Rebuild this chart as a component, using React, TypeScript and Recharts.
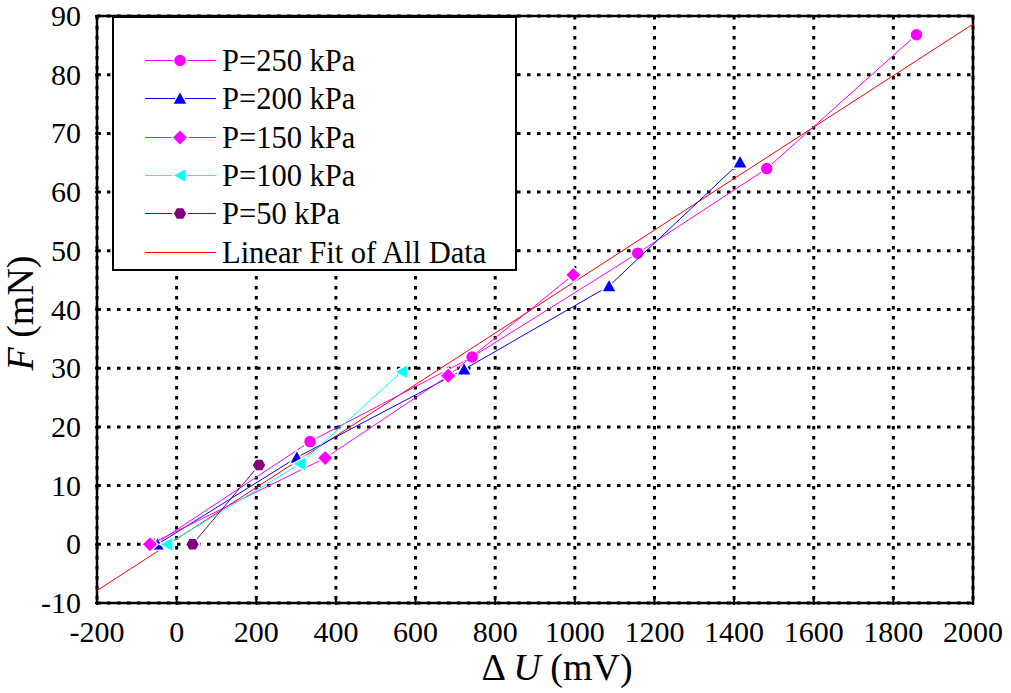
import React from 'react';
import {
  ScatterChart,
  Scatter,
  XAxis,
  YAxis,
  CartesianGrid,
  ReferenceLine,
  ReferenceArea,
} from 'recharts';

// Measured force F (mN) against output voltage change ΔU (mV) for each pressure
const p250 = [
  { u: -55, f: 0 },
  { u: 335, f: 17.5 },
  { u: 742, f: 31.9 },
  { u: 1158, f: 49.6 },
  { u: 1482, f: 64.0 },
  { u: 1858, f: 86.8 },
];
const p200 = [
  { u: -48, f: 0 },
  { u: 302, f: 14.8 },
  { u: 722, f: 29.8 },
  { u: 1086, f: 44.0 },
  { u: 1415, f: 65.1 },
];
const p150 = [
  { u: -67, f: 0 },
  { u: 373, f: 14.7 },
  { u: 682, f: 28.7 },
  { u: 996, f: 45.9 },
];
const p100 = [
  { u: -24, f: 0 },
  { u: 310, f: 13.7 },
  { u: 565, f: 29.4 },
];
const p50 = [
  { u: 40, f: 0 },
  { u: 207, f: 13.5 },
];

// Linear fit of all data: F = slope * ΔU + intercept
const fitSlope = 0.04386;
const fitIntercept = 0.9;

const xTicks = [-200, 0, 200, 400, 600, 800, 1000, 1200, 1400, 1600, 1800, 2000];
const yTicks = [-10, 0, 10, 20, 30, 40, 50, 60, 70, 80, 90];
const xDomain: [number, number] = [-200, 2000];
const yDomain: [number, number] = [-10, 90];

const legendLabels = [
  'P=250 kPa',
  'P=200 kPa',
  'P=150 kPa',
  'P=100 kPa',
  'P=50 kPa',
  'Linear Fit of All Data',
];

const MAGENTA = '#ff00ff';
const BLUE = '#0000ff';
const CYAN = '#00ffff';
const PURPLE = '#800080';
const RED = '#ff0000';
const FONT = "'Liberation Serif', 'Times New Roman', serif";

type MarkerKind = 'circle' | 'triangle' | 'diamond' | 'left' | 'hexagon';

function markerPath(kind: MarkerKind, cx: number, cy: number): string {
  switch (kind) {
    case 'triangle': {
      const s = 7.5;
      return `M${cx},${cy - s} L${cx + s},${cy + s * 0.8} L${cx - s},${cy + s * 0.8} Z`;
    }
    case 'diamond': {
      const s = 8;
      return `M${cx},${cy - s} L${cx + s},${cy} L${cx},${cy + s} L${cx - s},${cy} Z`;
    }
    case 'left': {
      const s = 7.5;
      return `M${cx - s},${cy} L${cx + s * 0.8},${cy - s} L${cx + s * 0.8},${cy + s} Z`;
    }
    case 'hexagon': {
      const r = 7;
      const pts: string[] = [];
      for (let i = 0; i < 6; i++) {
        const a = (Math.PI / 3) * i;
        pts.push(`${cx + r * Math.cos(a)},${cy + r * Math.sin(a)}`);
      }
      return `M${pts.join(' L')} Z`;
    }
    default:
      return '';
  }
}

function Marker({ kind, cx, cy, color }: { kind: MarkerKind; cx: number; cy: number; color: string }) {
  if (kind === 'circle') {
    return <circle cx={cx} cy={cy} r={6.5} fill={color} stroke="#fff" strokeWidth={1.5} />;
  }
  return <path d={markerPath(kind, cx, cy)} fill={color} stroke="#fff" strokeWidth={1.5} />;
}

const makeShape = (kind: MarkerKind, color: string) => (props: any) => {
  const { cx, cy } = props;
  if (cx == null || cy == null) return <g />;
  return <Marker kind={kind} cx={cx} cy={cy} color={color} />;
};

const XTick = (props: any) => {
  const { x, y, payload } = props;
  return (
    <g>
      <line x1={x} y1={y} x2={x} y2={y - 6} stroke="#000" strokeWidth={2} />
      <text x={x} y={y + 37} textAnchor="middle" style={{ fontFamily: FONT }} fontSize={30} fill="#000">
        {payload.value}
      </text>
    </g>
  );
};

const YTick = (props: any) => {
  const { x, y, payload } = props;
  return (
    <g>
      <line x1={x} y1={y} x2={x + 6} y2={y} stroke="#000" strokeWidth={2} />
      <text x={x - 14} y={y + 10} textAnchor="end" style={{ fontFamily: FONT }} fontSize={30} fill="#000">
        {payload.value}
      </text>
    </g>
  );
};

const legendItems: { color: string; kind: MarkerKind | null }[] = [
  { color: MAGENTA, kind: 'circle' },
  { color: BLUE, kind: 'triangle' },
  { color: MAGENTA, kind: 'diamond' },
  { color: CYAN, kind: 'left' },
  { color: PURPLE, kind: 'hexagon' },
  { color: RED, kind: null },
];

// Legend panel drawn in chart pixel space, in the upper-left corner of the plot
const LegendBox = ({ left, top }: { left: number; top: number }) => (
  <g transform={`translate(${left},${top})`}>
    <rect x={0} y={0} width={403} height={253} fill="#fff" stroke="#000" strokeWidth={2} />
    {legendItems.map((it, i) => {
      const cy = Math.round(43 + i * 38.3) + 0.5;
      return (
        <g key={legendLabels[i]}>
          <line x1={32} y1={cy} x2={103} y2={cy} stroke={it.color} strokeWidth={1} />
          {it.kind && <Marker kind={it.kind} cx={67} cy={cy} color={it.color} />}
          <text x={109} y={cy + 10} style={{ fontFamily: FONT }} fontSize={30.5} fill="#000">
            {legendLabels[i]}
          </text>
        </g>
      );
    })}
  </g>
);

export default function App() {
  const fitSegment = [
    { x: xDomain[0], y: fitSlope * xDomain[0] + fitIntercept },
    { x: xDomain[1], y: fitSlope * xDomain[1] + fitIntercept },
  ];
  return (
    <div style={{ position: 'absolute', left: 0, top: 0, background: '#fff' }}>
      <ScatterChart width={1011} height={693} margin={{ top: 16, right: 38, bottom: 0, left: 0 }}>
        <CartesianGrid stroke="#000" strokeWidth={3} strokeDasharray="3.5 6.5" />
        <XAxis
          type="number"
          dataKey="u"
          domain={xDomain}
          ticks={xTicks}
          height={90}
          axisLine={false}
          tickLine={false}
          tickSize={0}
          tick={<XTick />}
          interval={0}
          allowDataOverflow
        />
        <YAxis
          type="number"
          dataKey="f"
          domain={yDomain}
          ticks={yTicks}
          width={97}
          axisLine={false}
          tickLine={false}
          tickSize={0}
          tick={<YTick />}
          interval={0}
          allowDataOverflow
        />
        <ReferenceLine segment={fitSegment} stroke={RED} strokeWidth={1} ifOverflow="visible" />
        <Scatter data={p250} fill={MAGENTA} line={{ stroke: MAGENTA, strokeWidth: 1 }} shape={makeShape('circle', MAGENTA)} isAnimationActive={false} />
        <Scatter data={p200} fill={BLUE} line={{ stroke: BLUE, strokeWidth: 1 }} shape={makeShape('triangle', BLUE)} isAnimationActive={false} />
        <Scatter data={p150} fill={MAGENTA} line={{ stroke: MAGENTA, strokeWidth: 1 }} shape={makeShape('diamond', MAGENTA)} isAnimationActive={false} />
        <Scatter data={p100} fill={CYAN} line={{ stroke: CYAN, strokeWidth: 1 }} shape={makeShape('left', CYAN)} isAnimationActive={false} />
        <Scatter data={p50} fill={PURPLE} line={{ stroke: PURPLE, strokeWidth: 1 }} shape={makeShape('hexagon', PURPLE)} isAnimationActive={false} />
        <ReferenceArea
          x1={xDomain[0]}
          x2={xDomain[1]}
          y1={yDomain[0]}
          y2={yDomain[1]}
          fill="none"
          stroke="#000"
          strokeWidth={2.5}
          ifOverflow="visible"
        />
        <LegendBox left={113} top={17} />
        <text x={33} y={313} transform="rotate(-90 33 313)" textAnchor="middle" style={{ fontFamily: FONT }} fontSize={38} fill="#000">
          <tspan fontStyle="italic">F</tspan>
          <tspan> (mN)</tspan>
        </text>
        <text x={557} y={680} textAnchor="middle" style={{ fontFamily: FONT }} fontSize={38} fill="#000" xmlSpace="preserve">
          <tspan>Δ </tspan>
          <tspan fontStyle="italic">U</tspan>
          <tspan> (mV)</tspan>
        </text>
      </ScatterChart>
    </div>
  );
}
